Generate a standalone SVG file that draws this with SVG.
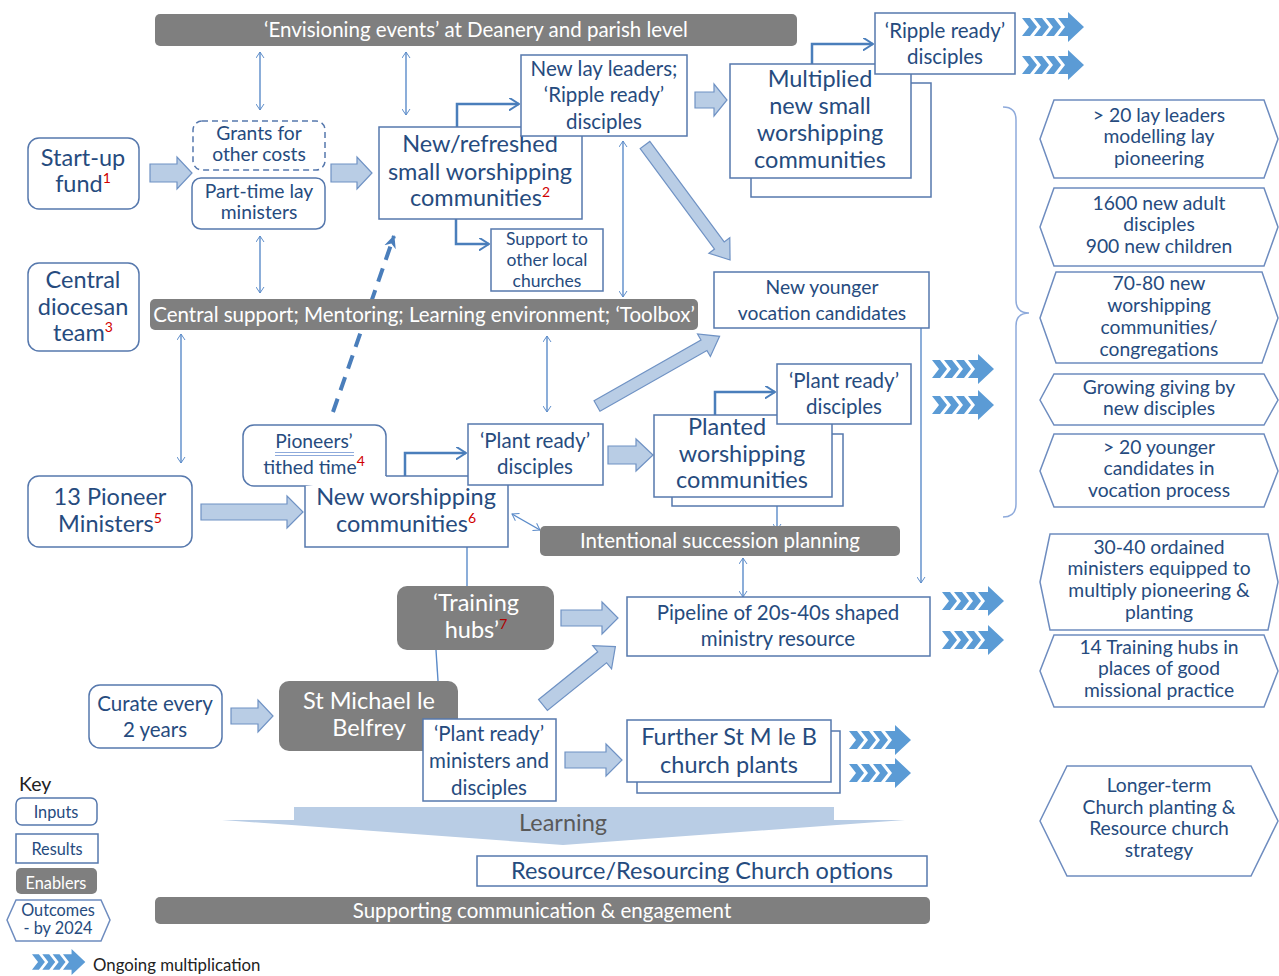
<svg xmlns="http://www.w3.org/2000/svg" width="1279" height="976" viewBox="0 0 1279 976">
<defs>
<style>
text{font-family:Lato,"Liberation Sans",sans-serif;fill:#264b7e;text-anchor:middle}
.b{fill:#fff;stroke:#5678ad;stroke-width:1.5}
.en{fill:#7f7f7f}
.wt{fill:#fff}
.hx{fill:#fff;stroke:#6e8cbf;stroke-width:1.5}
.ba{fill:#b9cde5;stroke:#6f92c4;stroke-width:1.2}
.dl{stroke:#5b8bc9;stroke-width:1.4;fill:none;marker-start:url(#oa);marker-end:url(#oa)}
.sl{stroke:#5b8bc9;stroke-width:1.4;fill:none}
.el{stroke:#4a7ebb;stroke-width:2.5;fill:none;marker-end:url(#ea)}
.s22{font-size:23.5px}.s19{font-size:20.5px}.s18{font-size:19.3px}.s16{font-size:17.5px}.k{font-size:16.3px}
.sup{fill:#d00000;font-size:14px}
</style>
<marker id="oa" viewBox="0 0 10 12" refX="9" refY="6" markerWidth="7" markerHeight="9" markerUnits="userSpaceOnUse" orient="auto-start-reverse"><path d="M0,0 L9,6 L0,12" fill="none" stroke="#5b8bc9" stroke-width="1.4"/></marker>
<marker id="ea" viewBox="0 0 12 14" refX="11" refY="7" markerWidth="11" markerHeight="13" markerUnits="userSpaceOnUse" orient="auto"><path d="M0,0 L11,7 L0,14" fill="none" stroke="#4a7ebb" stroke-width="2.2"/></marker>
<marker id="da" viewBox="0 0 14 14" refX="12" refY="7" markerWidth="14" markerHeight="16" markerUnits="userSpaceOnUse" orient="auto"><path d="M0,1 L13,7 L0,13 L4,7 Z" fill="#4a7ebb"/></marker>
<g id="chev" fill="#5b9bd5">
<polygon points="0,-9 8,-9 15,0 8,9 0,9 7,0"/>
<polygon points="12,-9 20,-9 27,0 20,9 12,9 19,0"/>
<polygon points="24,-9 32,-9 39,0 32,9 24,9 31,0"/>
<polygon points="36,-9 46,-9 46,-15 62,0 46,15 46,9 36,9 43,0"/>
</g>
</defs>
<rect width="1279" height="976" fill="#fff"/>

<g id="connectors">
<line class="dl" x1="260" y1="52" x2="260" y2="110"/>
<line class="dl" x1="406" y1="52" x2="406" y2="115"/>
<line class="dl" x1="260" y1="236" x2="260" y2="293"/>
<line class="dl" x1="623" y1="141" x2="623" y2="297"/>
<line class="dl" x1="181" y1="334" x2="181" y2="463"/>
<line class="dl" x1="547" y1="336" x2="547" y2="412"/>
<line class="dl" x1="777" y1="491" x2="777" y2="530"/>
<line class="dl" x1="512" y1="514" x2="540" y2="530"/>
<line class="dl" x1="743" y1="558" x2="743" y2="597"/>
<line class="sl" x1="921" y1="328" x2="921" y2="583" marker-end="url(#oa)"/>
<line class="sl" x1="467" y1="547" x2="467" y2="586"/>
<line class="sl" x1="436" y1="650" x2="438" y2="681"/>
<path class="el" d="M457,127 V104 H519"/>
<path class="el" d="M456,219 V244 H489"/>
<path class="el" d="M812,64 V44 H873"/>
<path class="el" d="M405,476 V453 H466"/>
<path class="el" d="M715,415 V392 H775"/>
<path d="M333,412 L394,236" stroke="#4a7ebb" stroke-width="4" stroke-dasharray="14 9" fill="none" marker-end="url(#da)"/>
<polygon class="ba" points="150,164 177,164 177,157 192,173 177,189 177,182 150,182"/>
<polygon class="ba" points="331,164 357,164 357,157 372,173 357,189 357,182 331,182"/>
<polygon class="ba" points="695,92 714,92 714,84 727,100 714,116 714,108 695,108"/>
<polygon class="ba" points="201,504 287,504 287,496 303,512 287,528 287,520 201,520"/>
<polygon class="ba" points="608,446 636,446 636,439 653,455 636,471 636,464 608,464"/>
<polygon class="ba" points="561,610 602,610 602,602 618,618 602,634 602,626 561,626"/>
<polygon class="ba" points="231,708 258,708 258,700 273,716 258,732 258,724 231,724"/>
<polygon class="ba" points="565,752 606,752 606,744 622,760 606,776 606,768 565,768"/>
<polygon class="ba" transform="translate(645,145) rotate(53.5)" points="0,-6 125,-6 125,-13 143,0 125,13 125,6 0,6"/>
<polygon class="ba" transform="translate(597,406) rotate(-29.6)" points="0,-6 123,-6 123,-13 141,0 123,13 123,6 0,6"/>
<polygon class="ba" transform="translate(543,705) rotate(-38.9)" points="0,-7 76,-7 76,-15 93,0 76,15 76,7 0,7"/>
<path d="M1003,107 Q1016,107 1016,120 V300 Q1016,313 1029,313 Q1016,313 1016,326 V504 Q1016,517 1003,517" fill="none" stroke="#8eaadb" stroke-width="1.5"/>
</g>

<g id="envisioning"><rect class="en" x="155" y="14" width="642" height="32" rx="5"/><text class="wt s19" x="476" y="37">‘Envisioning events’ at Deanery and parish level</text></g>

<g id="startup"><rect class="b" x="28" y="138" width="111" height="71" rx="11"/><text class="s22" x="83" y="166">Start-up</text><text class="s22" x="83" y="192">fund<tspan class="sup" dy="-9">1</tspan></text></g>

<g id="grants"><rect class="b" x="193" y="121" width="132" height="49" rx="9" stroke-dasharray="6 4"/><text class="s18" x="259" y="140">Grants for</text><text class="s18" x="259" y="161">other costs</text></g>

<g id="parttime"><rect class="b" x="192" y="178" width="133" height="51" rx="9"/><text class="s18" x="259" y="198">Part-time lay</text><text class="s18" x="259" y="219">ministers</text></g>

<g id="newrefreshed"><rect class="b" x="379" y="127" width="203" height="92"/><text class="s22" x="480" y="152">New/refreshed</text><text class="s22" x="480" y="180">small worshipping</text><text class="s22" x="480" y="206">communities<tspan class="sup" dy="-9">2</tspan></text></g>

<g id="newlay"><rect class="b" x="521" y="55" width="166" height="81"/><text class="s19" x="604" y="76">New lay leaders;</text><text class="s19" x="604" y="102">‘Ripple ready’</text><text class="s19" x="604" y="129">disciples</text></g>

<g id="support"><rect class="b" x="491" y="229" width="112" height="62"/><text class="s16" x="547" y="245">Support to</text><text class="s16" x="547" y="266">other local</text><text class="s16" x="547" y="287">churches</text></g>

<g id="multiplied"><rect class="b" x="751" y="83" width="180" height="114"/><rect class="b" x="730" y="64" width="181" height="114"/><text class="s22" x="820" y="87">Multiplied</text><text class="s22" x="820" y="114">new small</text><text class="s22" x="820" y="141">worshipping</text><text class="s22" x="820" y="168">communities</text></g>

<g id="rippleready"><rect class="b" x="875" y="13" width="140" height="61"/><text class="s19" x="945" y="38">‘Ripple ready’</text><text class="s19" x="945" y="64">disciples</text></g>

<g id="central"><rect class="b" x="28" y="263" width="111" height="88" rx="11"/><text class="s22" x="83" y="288">Central</text><text class="s22" x="83" y="315">diocesan</text><text class="s22" x="83" y="341">team<tspan class="sup" dy="-9">3</tspan></text></g>

<g id="centralsupport"><rect class="en" x="150" y="299" width="548" height="31" rx="5"/><text class="wt s19" x="424" y="322">Central support; Mentoring; Learning environment; ‘Toolbox’</text></g>

<g id="younger"><rect class="b" x="714" y="272" width="215" height="56"/><text class="s18" x="822" y="294">New younger</text><text class="s18" x="822" y="320">vocation candidates</text></g>

<g id="pioneerstime"><rect class="b" x="243" y="425" width="143" height="61" rx="11"/><text class="s18" x="314" y="448">Pioneers’</text><line x1="275" y1="452.5" x2="354" y2="452.5" stroke="#8eaadb" stroke-width="1.2"/><line x1="275" y1="455.5" x2="354" y2="455.5" stroke="#8eaadb" stroke-width="1.2"/><text class="s18" x="314" y="474">tithed time<tspan class="sup" dy="-8">4</tspan></text></g>

<g id="pioneer13"><rect class="b" x="28" y="476" width="164" height="71" rx="11"/><text class="s22" x="110" y="505">13 Pioneer</text><text class="s22" x="110" y="532">Ministers<tspan class="sup" dy="-9">5</tspan></text></g>

<g id="newworshipping"><path class="b" d="M386,476 H508 V547 H305 V486"/><text class="s22" x="406" y="505">New worshipping</text><text class="s22" x="406" y="532">communities<tspan class="sup" dy="-9">6</tspan></text></g>

<g id="plantready1"><rect class="b" x="468" y="424" width="135" height="61"/><text class="s19" x="535" y="448">‘Plant ready’</text><text class="s19" x="535" y="474">disciples</text></g>

<g id="planted"><rect class="b" x="672" y="434" width="171" height="72"/><rect class="b" x="654" y="415" width="178" height="82"/><text class="s22" x="727" y="435">Planted</text><text class="s22" x="742" y="462">worshipping</text><text class="s22" x="742" y="488">communities</text></g>

<g id="plantready2"><rect class="b" x="777" y="364" width="134" height="60"/><text class="s19" x="844" y="388">‘Plant ready’</text><text class="s19" x="844" y="414">disciples</text></g>

<g id="succession"><rect class="en" x="540" y="526" width="360" height="30" rx="5"/><text class="wt s19" x="720" y="548">Intentional succession planning</text></g>

<g id="training"><rect class="en" x="397" y="586" width="157" height="64" rx="10"/><text class="wt s22" x="476" y="611">‘Training</text><text class="wt s22" x="476" y="638">hubs’<tspan class="sup" style="fill:#b00000" dy="-9">7</tspan></text></g>

<g id="pipeline"><rect class="b" x="627" y="597" width="303" height="59"/><text class="s19" x="778" y="620">Pipeline of 20s-40s shaped</text><text class="s19" x="778" y="646">ministry resource</text></g>

<g id="curate"><rect class="b" x="89" y="685" width="133" height="63" rx="11"/><text class="s19" x="155" y="711">Curate every</text><text class="s19" x="155" y="737">2 years</text></g>

<g id="stmichael"><rect class="en" x="279" y="681" width="179" height="70" rx="10"/><text class="wt s22" x="369" y="709">St Michael le</text><text class="wt s22" x="369" y="736">Belfrey</text></g>

<g id="plantministers"><rect class="b" x="423" y="719" width="133" height="82"/><text class="s19" x="489" y="741">‘Plant ready’</text><text class="s19" x="489" y="768">ministers and</text><text class="s19" x="489" y="795">disciples</text></g>

<g id="further"><rect class="b" x="637" y="731" width="203" height="62"/><rect class="b" x="627" y="720" width="204" height="62"/><text class="s22" x="729" y="745">Further St M le B</text><text class="s22" x="729" y="773">church plants</text></g>

<g id="learning"><polygon points="294,807 834,807 834,820 905,820 563,845 222,820 294,820" fill="#b9cde5"/><text class="s22" x="563" y="831" style="fill:#595959">Learning</text></g>

<g id="resource"><rect class="b" x="477" y="856" width="450" height="30"/><text class="s22" x="702" y="879">Resource/Resourcing Church options</text></g>

<g id="supporting"><rect class="en" x="155" y="897" width="775" height="27" rx="5"/><text class="wt s19" x="542" y="918">Supporting communication &amp; engagement</text></g>

<g id="chevrons">
<use href="#chev" x="1022" y="27"/><use href="#chev" x="1022" y="65"/>
<use href="#chev" x="932" y="369"/><use href="#chev" x="932" y="405"/>
<use href="#chev" x="942" y="601"/><use href="#chev" x="942" y="640"/>
<use href="#chev" x="849" y="740"/><use href="#chev" x="849" y="773"/>
</g>

<g id="out1"><polygon class="hx" points="1040,139 1054,100 1264,100 1278,139 1264,178 1054,178"/><text class="s18" x="1159" y="122">&gt; 20 lay leaders</text><text class="s18" x="1159" y="143">modelling lay</text><text class="s18" x="1159" y="165">pioneering</text></g>
<g id="out2"><polygon class="hx" points="1040,227 1054,188 1264,188 1278,227 1264,266 1054,266"/><text class="s18" x="1159" y="210">1600 new adult</text><text class="s18" x="1159" y="231">disciples</text><text class="s18" x="1159" y="253">900 new children</text></g>
<g id="out3"><polygon class="hx" points="1040,318 1056,272 1262,272 1278,318 1262,363 1056,363"/><text class="s18" x="1159" y="290">70-80 new</text><text class="s18" x="1159" y="312">worshipping</text><text class="s18" x="1159" y="334">communities/</text><text class="s18" x="1159" y="356">congregations</text></g>
<g id="out4"><polygon class="hx" points="1040,400 1054,374 1264,374 1278,400 1264,425 1054,425"/><text class="s18" x="1159" y="394">Growing giving by</text><text class="s18" x="1159" y="415">new disciples</text></g>
<g id="out5"><polygon class="hx" points="1040,471 1054,434 1264,434 1278,471 1264,507 1054,507"/><text class="s18" x="1159" y="454">&gt; 20 younger</text><text class="s18" x="1159" y="475">candidates in</text><text class="s18" x="1159" y="497">vocation process</text></g>
<g id="out6"><polygon class="hx" points="1040,582 1050,534 1268,534 1278,582 1268,630 1050,630"/><text class="s18" x="1159" y="554">30-40 ordained</text><text class="s18" x="1159" y="575">ministers equipped to</text><text class="s18" x="1159" y="597">multiply pioneering &amp;</text><text class="s18" x="1159" y="619">planting</text></g>
<g id="out7"><polygon class="hx" points="1040,671 1054,635 1264,635 1278,671 1264,707 1054,707"/><text class="s18" x="1159" y="654">14 Training hubs in</text><text class="s18" x="1159" y="675">places of good</text><text class="s18" x="1159" y="697">missional practice</text></g>
<g id="out8"><polygon class="hx" points="1040,821 1067,766 1251,766 1278,821 1251,876 1067,876"/><text class="s18" x="1159" y="792">Longer-term</text><text class="s18" x="1159" y="814">Church planting &amp;</text><text class="s18" x="1159" y="835">Resource church</text><text class="s18" x="1159" y="857">strategy</text></g>

<g id="key">
<text x="19" y="791" style="fill:#222;text-anchor:start;font-size:19.5px">Key</text>
<rect class="b" x="16" y="798" width="81" height="27" rx="6"/><text class="k" x="56" y="818">Inputs</text>
<rect class="b" x="16" y="834" width="82" height="29"/><text class="k" x="57" y="855">Results</text>
<rect class="en" x="16" y="868" width="81" height="26" rx="5"/><text class="wt k" x="56" y="889">Enablers</text>
<polygon class="hx" points="7,920 16,900 101,900 110,920 101,941 16,941"/><text class="k" x="58" y="916">Outcomes</text><text class="k" x="58" y="934">- by 2024</text>
<use href="#chev" transform="translate(32,962) scale(0.86)"/>
<text x="93" y="971" style="fill:#222;text-anchor:start;font-size:16.8px">Ongoing multiplication</text>
</g>
</svg>
